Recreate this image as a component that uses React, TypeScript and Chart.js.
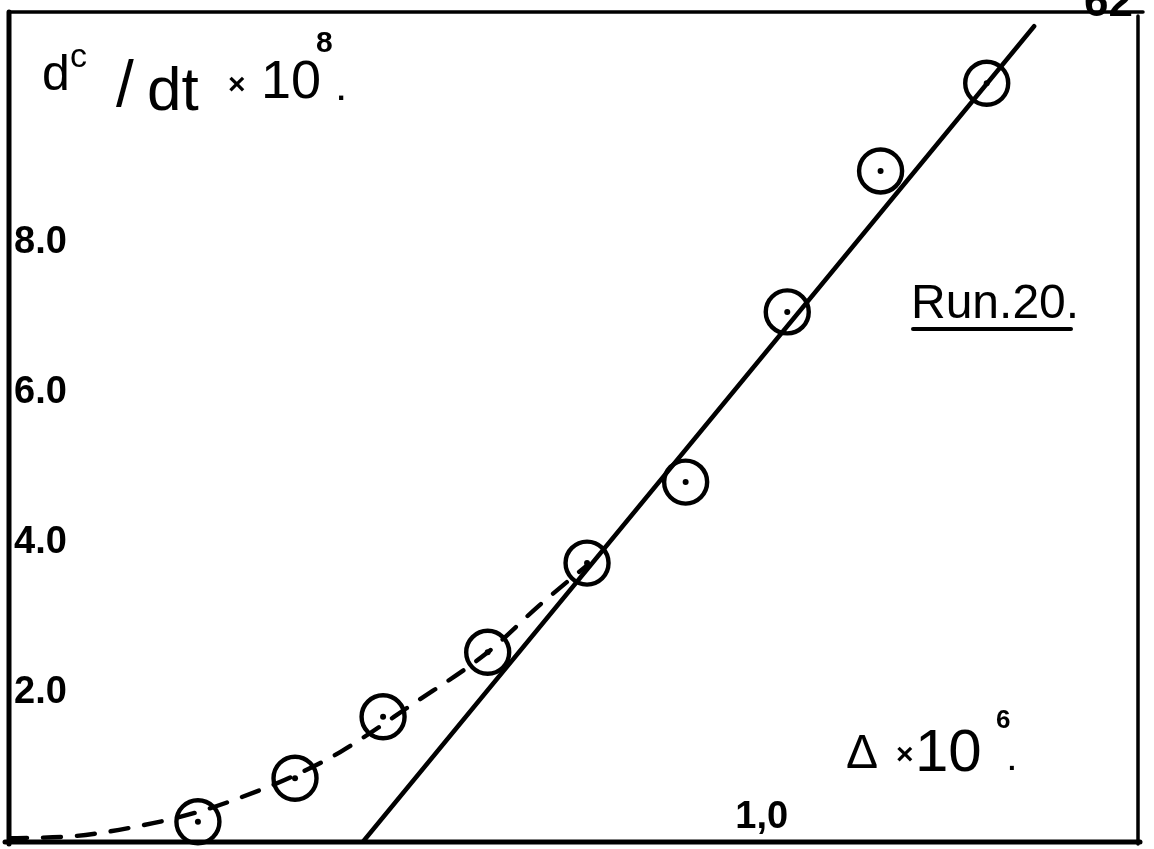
import { useEffect, useRef } from "react";
import { Chart, registerables } from "chart.js";

Chart.register(...registerables);

// Measured points: Δ × 10^6 against dc/dt × 10^8
const pointX = [0.251, 0.38, 0.497, 0.636, 0.768, 0.899, 1.034, 1.158, 1.299];
const pointY = [0.27, 0.85, 1.67, 2.53, 3.72, 4.8, 7.07, 8.95, 10.12];

// Straight line fitted to the upper points
const fitX = [0.47, 1.362];
const fitY = [0, 10.88];

// Hand-drawn dashed curve through the low points
const curveX = [0, 0.088, 0.161, 0.251, 0.333, 0.38, 0.44, 0.535, 0.636, 0.705, 0.768];
const curveY = [0.05, 0.08, 0.19, 0.4, 0.69, 0.89, 1.2, 1.83, 2.53, 3.16, 3.69];

// Axis ticks
const yTicks = [2, 4, 6, 8];
const xTicks = [1];

const FONT = '"Liberation Sans", Arial, sans-serif';
const INK = "#000";

const zip = (xs: number[], ys: number[]) => xs.map((x, i) => ({ x, y: ys[i] }));

const annotations = {
  id: "annotations",
  afterDraw(chart: any) {
    const ctx: CanvasRenderingContext2D = chart.ctx;
    const { left, right, top, bottom } = chart.chartArea;
    ctx.save();
    ctx.fillStyle = INK;
    ctx.strokeStyle = INK;
    ctx.lineCap = "round";

    // frame
    const seg = (x1: number, y1: number, x2: number, y2: number, w: number) => {
      ctx.lineWidth = w;
      ctx.beginPath();
      ctx.moveTo(x1, y1);
      ctx.lineTo(x2, y2);
      ctx.stroke();
    };
    seg(left, top, left, bottom + 2, 5);
    seg(left - 4, bottom, right + 2, bottom, 5);
    seg(left, top, right + 5, top, 3.5);
    seg(right, top + 4, right, bottom + 2, 3.5);

    const t = (s: string, x: number, y: number, size: number, weight = "normal") => {
      ctx.font = `${weight} ${size}px ${FONT}`;
      ctx.textAlign = "left";
      ctx.textBaseline = "alphabetic";
      ctx.fillText(s, x, y);
    };

    // y-axis title: dc/dt × 10^8.
    t("d", 42, 90, 50);
    t("c", 70, 67, 34);
    t("/", 116, 106, 64);
    t("dt", 147, 110, 62);
    t("×", 228, 94, 30, "bold");
    t("10", 261, 98, 54);
    t("8", 316, 52, 30, "bold");
    t(".", 337, 100, 30, "bold");

    // x-axis title: Δ × 10^6.
    t("Δ", 846, 768, 48);
    t("×", 896, 764, 30, "bold");
    t("10", 915, 771, 60);
    t("6", 996, 728, 26, "bold");
    t(".", 1008, 770, 28, "bold");

    // run label
    t("Run.20.", 911, 318, 48);
    seg(913, 329, 1071, 329, 4);

    // page number cut by the top edge
    t("62", 1084, 16, 44, "bold");

    ctx.restore();
  },
};

export default function App() {
  const ref = useRef<HTMLCanvasElement | null>(null);

  useEffect(() => {
    if (!ref.current) return;
    const tickFont = { family: FONT, size: 38, weight: "bold" as const, lineHeight: 1 };
    const chart = new Chart(ref.current, {
      type: "scatter",
      data: {
        datasets: [
          {
            label: "centres",
            data: zip(pointX, pointY),
            pointRadius: 3,
            pointBackgroundColor: INK,
            pointBorderWidth: 0,
            showLine: false,
            clip: false,
          },
          {
            label: "points",
            data: zip(pointX, pointY),
            pointStyle: "circle",
            pointRadius: 21.5,
            pointBorderWidth: 4.4,
            pointBorderColor: INK,
            pointBackgroundColor: "rgba(0,0,0,0)",
            showLine: false,
            clip: false,
          },
          {
            label: "fit",
            data: zip(fitX, fitY),
            showLine: true,
            borderColor: INK,
            borderWidth: 4.5,
            pointRadius: 0,
            borderCapStyle: "round",
          },
          {
            label: "curve",
            data: zip(curveX, curveY),
            showLine: true,
            borderColor: INK,
            borderWidth: 4.4,
            borderDash: [18, 16],
            borderCapStyle: "round",
            cubicInterpolationMode: "monotone",
            pointRadius: 0,
          },
        ],
      },
      options: {
        animation: false,
        responsive: false,
        events: [],
        layout: { autoPadding: false, padding: { left: 9, top: 12, right: 16, bottom: 7 } },
        plugins: {
          legend: { display: false },
          tooltip: { enabled: false },
          title: { display: false },
        },
        scales: {
          x: {
            type: "linear",
            min: 0,
            max: 1.5,
            grid: { display: false, drawTicks: false },
            border: { display: false },
            afterFit: (s: any) => {
              s.height = 0;
              s.paddingLeft = 0;
              s.paddingRight = 0;
            },
            afterBuildTicks: (s: any) => {
              s.ticks = xTicks.map((v) => ({ value: v }));
            },
            ticks: {
              mirror: true,
              padding: 5,
              autoSkip: false,
              maxRotation: 0,
              color: INK,
              font: tickFont,
              callback: (v: any) => Number(v).toFixed(1).replace(".", ","),
            },
          },
          y: {
            type: "linear",
            min: 0,
            max: 11.07,
            grid: { display: false, drawTicks: false },
            border: { display: false },
            afterFit: (s: any) => {
              s.width = 0;
              s.paddingTop = 0;
              s.paddingBottom = 0;
            },
            afterBuildTicks: (s: any) => {
              s.ticks = yTicks.map((v) => ({ value: v }));
            },
            ticks: {
              mirror: true,
              padding: 5,
              autoSkip: false,
              color: INK,
              font: tickFont,
              callback: (v: any) => Number(v).toFixed(1),
            },
          },
        },
      },
      plugins: [annotations],
    });
    return () => chart.destroy();
  }, []);

  return (
    <div style={{ position: "fixed", left: 0, top: 0, width: 1154, height: 849, background: "#fff" }}>
      <canvas ref={ref} width={1154} height={849} style={{ display: "block" }} />
    </div>
  );
}
